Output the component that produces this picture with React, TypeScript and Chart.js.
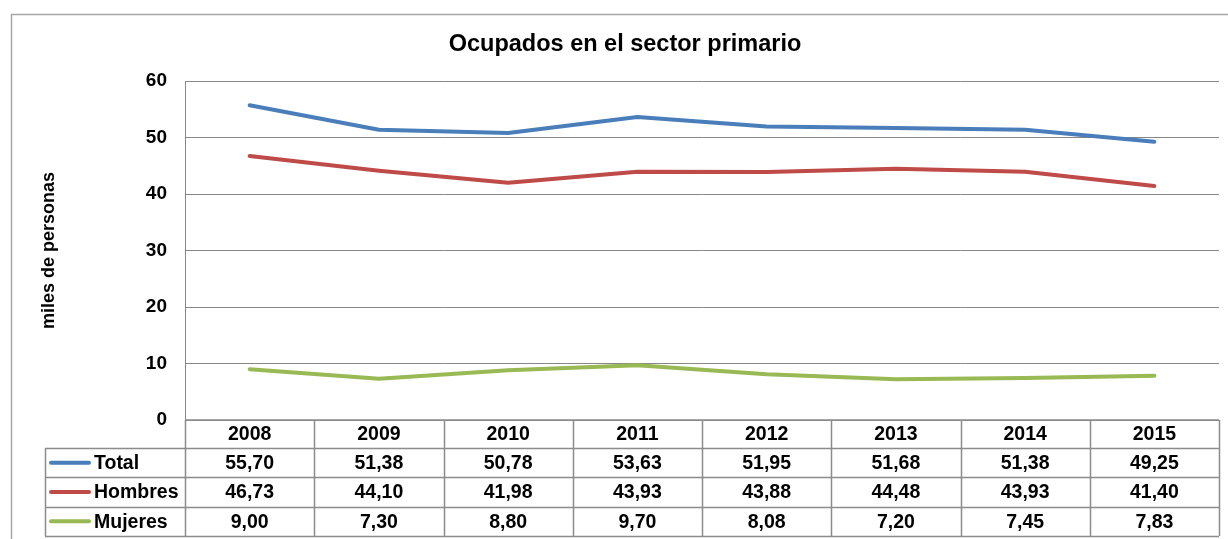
import React, { useEffect, useRef } from "react";
import { Chart, registerables } from "chart.js";

Chart.register(...registerables);

const years = ["2008", "2009", "2010", "2011", "2012", "2013", "2014", "2015"];
const totalValues = [55.7, 51.38, 50.78, 53.63, 51.95, 51.68, 51.38, 49.25];
const hombresValues = [46.73, 44.1, 41.98, 43.93, 43.88, 44.48, 43.93, 41.4];
const mujeresValues = [9.0, 7.3, 8.8, 9.7, 8.08, 7.2, 7.45, 7.83];
const seriesNames = ["Total", "Hombres", "Mujeres"];
const seriesColors = ["#4A7EBB", "#BE4B48", "#98B954"];
const chartTitle = "Ocupados en el sector primario";
const yTitle = "miles de personas";
const yTicks = [0, 10, 20, 30, 40, 50, 60];

const FONT = "'Liberation Sans', Arial, sans-serif";
const GRID = "#878787";
const TABLE_LINE = "#8C8C8C";

const fmt = (v: number) => v.toFixed(2).replace(".", ",");

const decorPlugin = {
  id: "decor",
  beforeDraw(chart: any) {
    const ctx = chart.ctx;
    ctx.save();
    ctx.strokeStyle = "#A6A6A6";
    ctx.lineWidth = 1.5;
    ctx.beginPath();
    ctx.moveTo(11.5, 539);
    ctx.lineTo(11.5, 14.5);
    ctx.lineTo(1228, 14.5);
    ctx.stroke();
    ctx.fillStyle = "#000";
    ctx.font = `bold 23.5px ${FONT}`;
    ctx.textAlign = "center";
    ctx.textBaseline = "middle";
    ctx.fillText(chartTitle, 625, 45);
    ctx.restore();
  },
  afterDraw(chart: any) {
    const ctx = chart.ctx;
    const area = chart.chartArea;
    const x = chart.scales.x;
    const left = area.left;
    const right = area.right;
    const top = area.bottom;
    const headerH = 28;
    const rowH = 29.3;
    const legendLeft = 45;
    const n = years.length;
    const colW = (right - left) / n;
    const rowsData = [totalValues, hombresValues, mujeresValues];
    const bottom = top + headerH + rowH * rowsData.length;

    ctx.save();
    ctx.strokeStyle = TABLE_LINE;
    ctx.lineWidth = 1.5;
    ctx.beginPath();
    ctx.moveTo(left, top);
    ctx.lineTo(right, top);
    for (let r = 0; r <= rowsData.length; r++) {
      const y = Math.round(top + headerH + rowH * r) + 0.5;
      ctx.moveTo(legendLeft, y);
      ctx.lineTo(right, y);
    }
    for (let c = 0; c <= n; c++) {
      const xx = Math.round(left + colW * c) + 0.5;
      ctx.moveTo(xx, top);
      ctx.lineTo(xx, bottom);
    }
    ctx.moveTo(legendLeft + 0.5, top + headerH);
    ctx.lineTo(legendLeft + 0.5, bottom);
    ctx.stroke();

    ctx.fillStyle = "#000";
    ctx.font = `bold 19.5px ${FONT}`;
    ctx.textAlign = "center";
    ctx.textBaseline = "middle";
    years.forEach((yr, i) => {
      const cx = x.getPixelForValue(i);
      ctx.fillText(yr, cx, top + headerH / 2 + 1);
    });
    rowsData.forEach((vals, r) => {
      const cy = top + headerH + rowH * r + rowH / 2 + 1;
      vals.forEach((v, i) => {
        const cx = x.getPixelForValue(i);
        ctx.fillText(fmt(v), cx, cy);
      });
      ctx.save();
      ctx.strokeStyle = seriesColors[r];
      ctx.lineWidth = 4;
      ctx.lineCap = "round";
      ctx.beginPath();
      ctx.moveTo(51, cy - 1);
      ctx.lineTo(89, cy - 1);
      ctx.stroke();
      ctx.restore();
      ctx.textAlign = "left";
      ctx.fillText(seriesNames[r], 94, cy);
      ctx.textAlign = "center";
    });
    ctx.restore();
  },
};

export default function App() {
  const ref = useRef<HTMLCanvasElement | null>(null);

  useEffect(() => {
    if (!ref.current) return;
    const datasets = [totalValues, hombresValues, mujeresValues].map((data, i) => ({
      label: seriesNames[i],
      data,
      borderColor: seriesColors[i],
      backgroundColor: seriesColors[i],
      borderWidth: 4,
      pointRadius: 0,
      tension: 0,
      borderCapStyle: "round" as const,
      borderJoinStyle: "round" as const,
    }));
    const chart = new Chart(ref.current, {
      type: "line",
      data: { labels: years, datasets },
      options: {
        animation: false,
        responsive: false,
        devicePixelRatio: 1,
        layout: { padding: { top: 81, right: 9, bottom: 119, left: 0 } },
        plugins: {
          legend: { display: false },
          title: { display: false },
          tooltip: { enabled: false },
        },
        scales: {
          x: {
            type: "category",
            display: false,
            offset: true,
          },
          y: {
            min: 0,
            max: 60,
            afterFit: (scale: any) => {
              scale.width = 185;
            },
            afterBuildTicks: (scale: any) => {
              scale.ticks = yTicks.map((v) => ({ value: v }));
            },
            grid: { color: GRID, lineWidth: 1, drawTicks: false },
            border: { display: true, color: GRID, width: 1 },
            ticks: {
              padding: 18,
              color: "#000",
              font: { family: FONT, size: 19, weight: "bold" },
            },
            title: {
              display: true,
              text: yTitle,
              color: "#000",
              font: { family: FONT, size: 18, weight: "bold" },
              padding: { top: 38, bottom: 0 },
            },
          },
        },
      },
      plugins: [decorPlugin],
    });
    return () => chart.destroy();
  }, []);

  return (
    <div style={{ position: "absolute", left: 0, top: 0, width: 1228, height: 539, background: "#fff" }}>
      <canvas ref={ref} width={1228} height={539} style={{ display: "block" }} />
    </div>
  );
}
